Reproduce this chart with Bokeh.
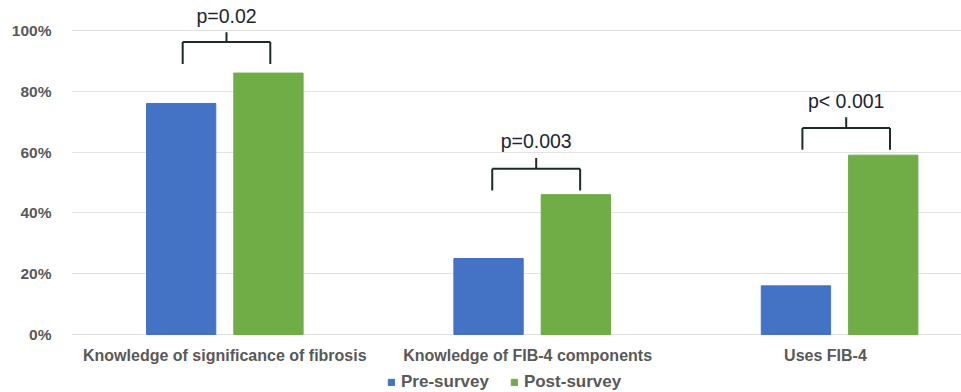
from bokeh.plotting import figure
from bokeh.models import (ColumnDataSource, Range1d, FixedTicker, Legend, LegendItem)
from bokeh.core.properties import value
from bokeh.embed import file_html
from bokeh.resources import INLINE

# Survey results (% of respondents)
categories = ["Knowledge of significance of fibrosis",
              "Knowledge of FIB-4 components",
              "Uses FIB-4"]
pre_survey = [76, 25, 16]
post_survey = [86, 46, 59]
p_values = ["p=0.02", "p=0.003", "p< 0.001"]
y_ticks = [0, 20, 40, 60, 80, 100]
y_tick_labels = ["0%", "20%", "40%", "60%", "80%", "100%"]

# significance brackets: left/right ends (offset from category centre), leg bottom, bar height, tick top, label height
br_left = [-0.137, -0.130, -0.121]
br_right = [0.148, 0.156, 0.164]
br_bottom = [89.0, 47.4, 60.8]
br_bar = [96.2, 54.5, 67.9]
br_top = [99.4, 58.1, 71.5]
br_label = [104.7, 63.8, 76.7]

BLUE = "#4472C4"
GREEN = "#70AD47"
GREY = "#595959"
FONT = "Liberation Sans"

pos = list(range(len(categories)))
offset = 0.142
width = 0.2255
label_shift = [0.0, -0.015, -0.046]

# the frame runs down to the bottom edge so that category names and legend fit under the 0% line
p = figure(frame_width=890, frame_height=392, output_backend="svg", toolbar_location=None,
           x_range=Range1d(-0.4987, 2.3966), y_range=Range1d(-19.08, 109.87),
           min_border_left=71, min_border_right=0, min_border_top=0,
           min_border_bottom=0)
p.outline_line_color = None
p.background_fill_color = "white"
p.border_fill_color = "white"

pre_src = ColumnDataSource(dict(x=[i - offset for i in pos], top=pre_survey))
post_src = ColumnDataSource(dict(x=[i + offset for i in pos], top=post_survey))
r_pre = p.vbar(x="x", top="top", width=width, bottom=0, source=pre_src,
               fill_color=BLUE, line_color=BLUE)
r_post = p.vbar(x="x", top="top", width=width, bottom=0, source=post_src,
                fill_color=GREEN, line_color=GREEN)

# brackets
xl = [i + d for i, d in zip(pos, br_left)]
xr = [i + d for i, d in zip(pos, br_right)]
xm = [(a + b) / 2 for a, b in zip(xl, xr)]
seg = dict(x0=[], y0=[], x1=[], y1=[])
for a, b, m, yb, yh, yt in zip(xl, xr, xm, br_bottom, br_bar, br_top):
    for x0, y0, x1, y1 in [(a, yb, a, yh), (b, yb, b, yh), (a, yh, b, yh), (m, yh, m, yt)]:
        seg["x0"].append(x0); seg["y0"].append(y0)
        seg["x1"].append(x1); seg["y1"].append(y1)
p.segment(x0="x0", y0="y0", x1="x1", y1="y1", source=ColumnDataSource(seg),
          line_color="#1e2b2b", line_width=2)
p.text(x=xm, y=br_label, text=p_values, text_align="center", text_baseline="middle",
       text_font=value(FONT), text_font_size="19.5px", text_color="#1c2536")

# category names under the bars
p.text(x=[i + s for i, s in zip(pos, label_shift)], y=[0] * len(pos), text=categories,
       y_offset=21, text_align="center", text_baseline="alphabetic",
       text_font=value(FONT), text_font_style="bold", text_font_size="16px",
       text_color=GREY)

# grid / y axis
p.xgrid.visible = False
p.xaxis.visible = False
p.ygrid.ticker = FixedTicker(ticks=y_ticks)
p.ygrid.grid_line_color = "#e3e3e3"
p.ygrid.grid_line_width = 1

p.yaxis.ticker = FixedTicker(ticks=y_ticks)
p.yaxis.major_label_overrides = {t: l for t, l in zip(y_ticks, y_tick_labels)}
p.yaxis.axis_line_color = None
p.yaxis.major_tick_line_color = None
p.yaxis.minor_tick_line_color = None
p.yaxis.major_label_standoff = 14
p.yaxis.major_label_text_font = FONT
p.yaxis.major_label_text_font_style = "bold"
p.yaxis.major_label_text_font_size = "15.5px"
p.yaxis.major_label_text_color = GREY

legend = Legend(items=[LegendItem(label="Pre-survey", renderers=[r_pre]),
                       LegendItem(label="Post-survey", renderers=[r_post])],
                orientation="horizontal", location=(316, 0),
                label_text_font=FONT, label_text_font_style="bold",
                label_text_font_size="17px", label_text_color=GREY,
                glyph_width=8, glyph_height=8, label_standoff=6, spacing=21,
                label_height=17, padding=0, margin=0, border_line_color=None,
                background_fill_alpha=0)
p.add_layout(legend, "center")

open("out.html", "w").write(file_html(p, INLINE))
